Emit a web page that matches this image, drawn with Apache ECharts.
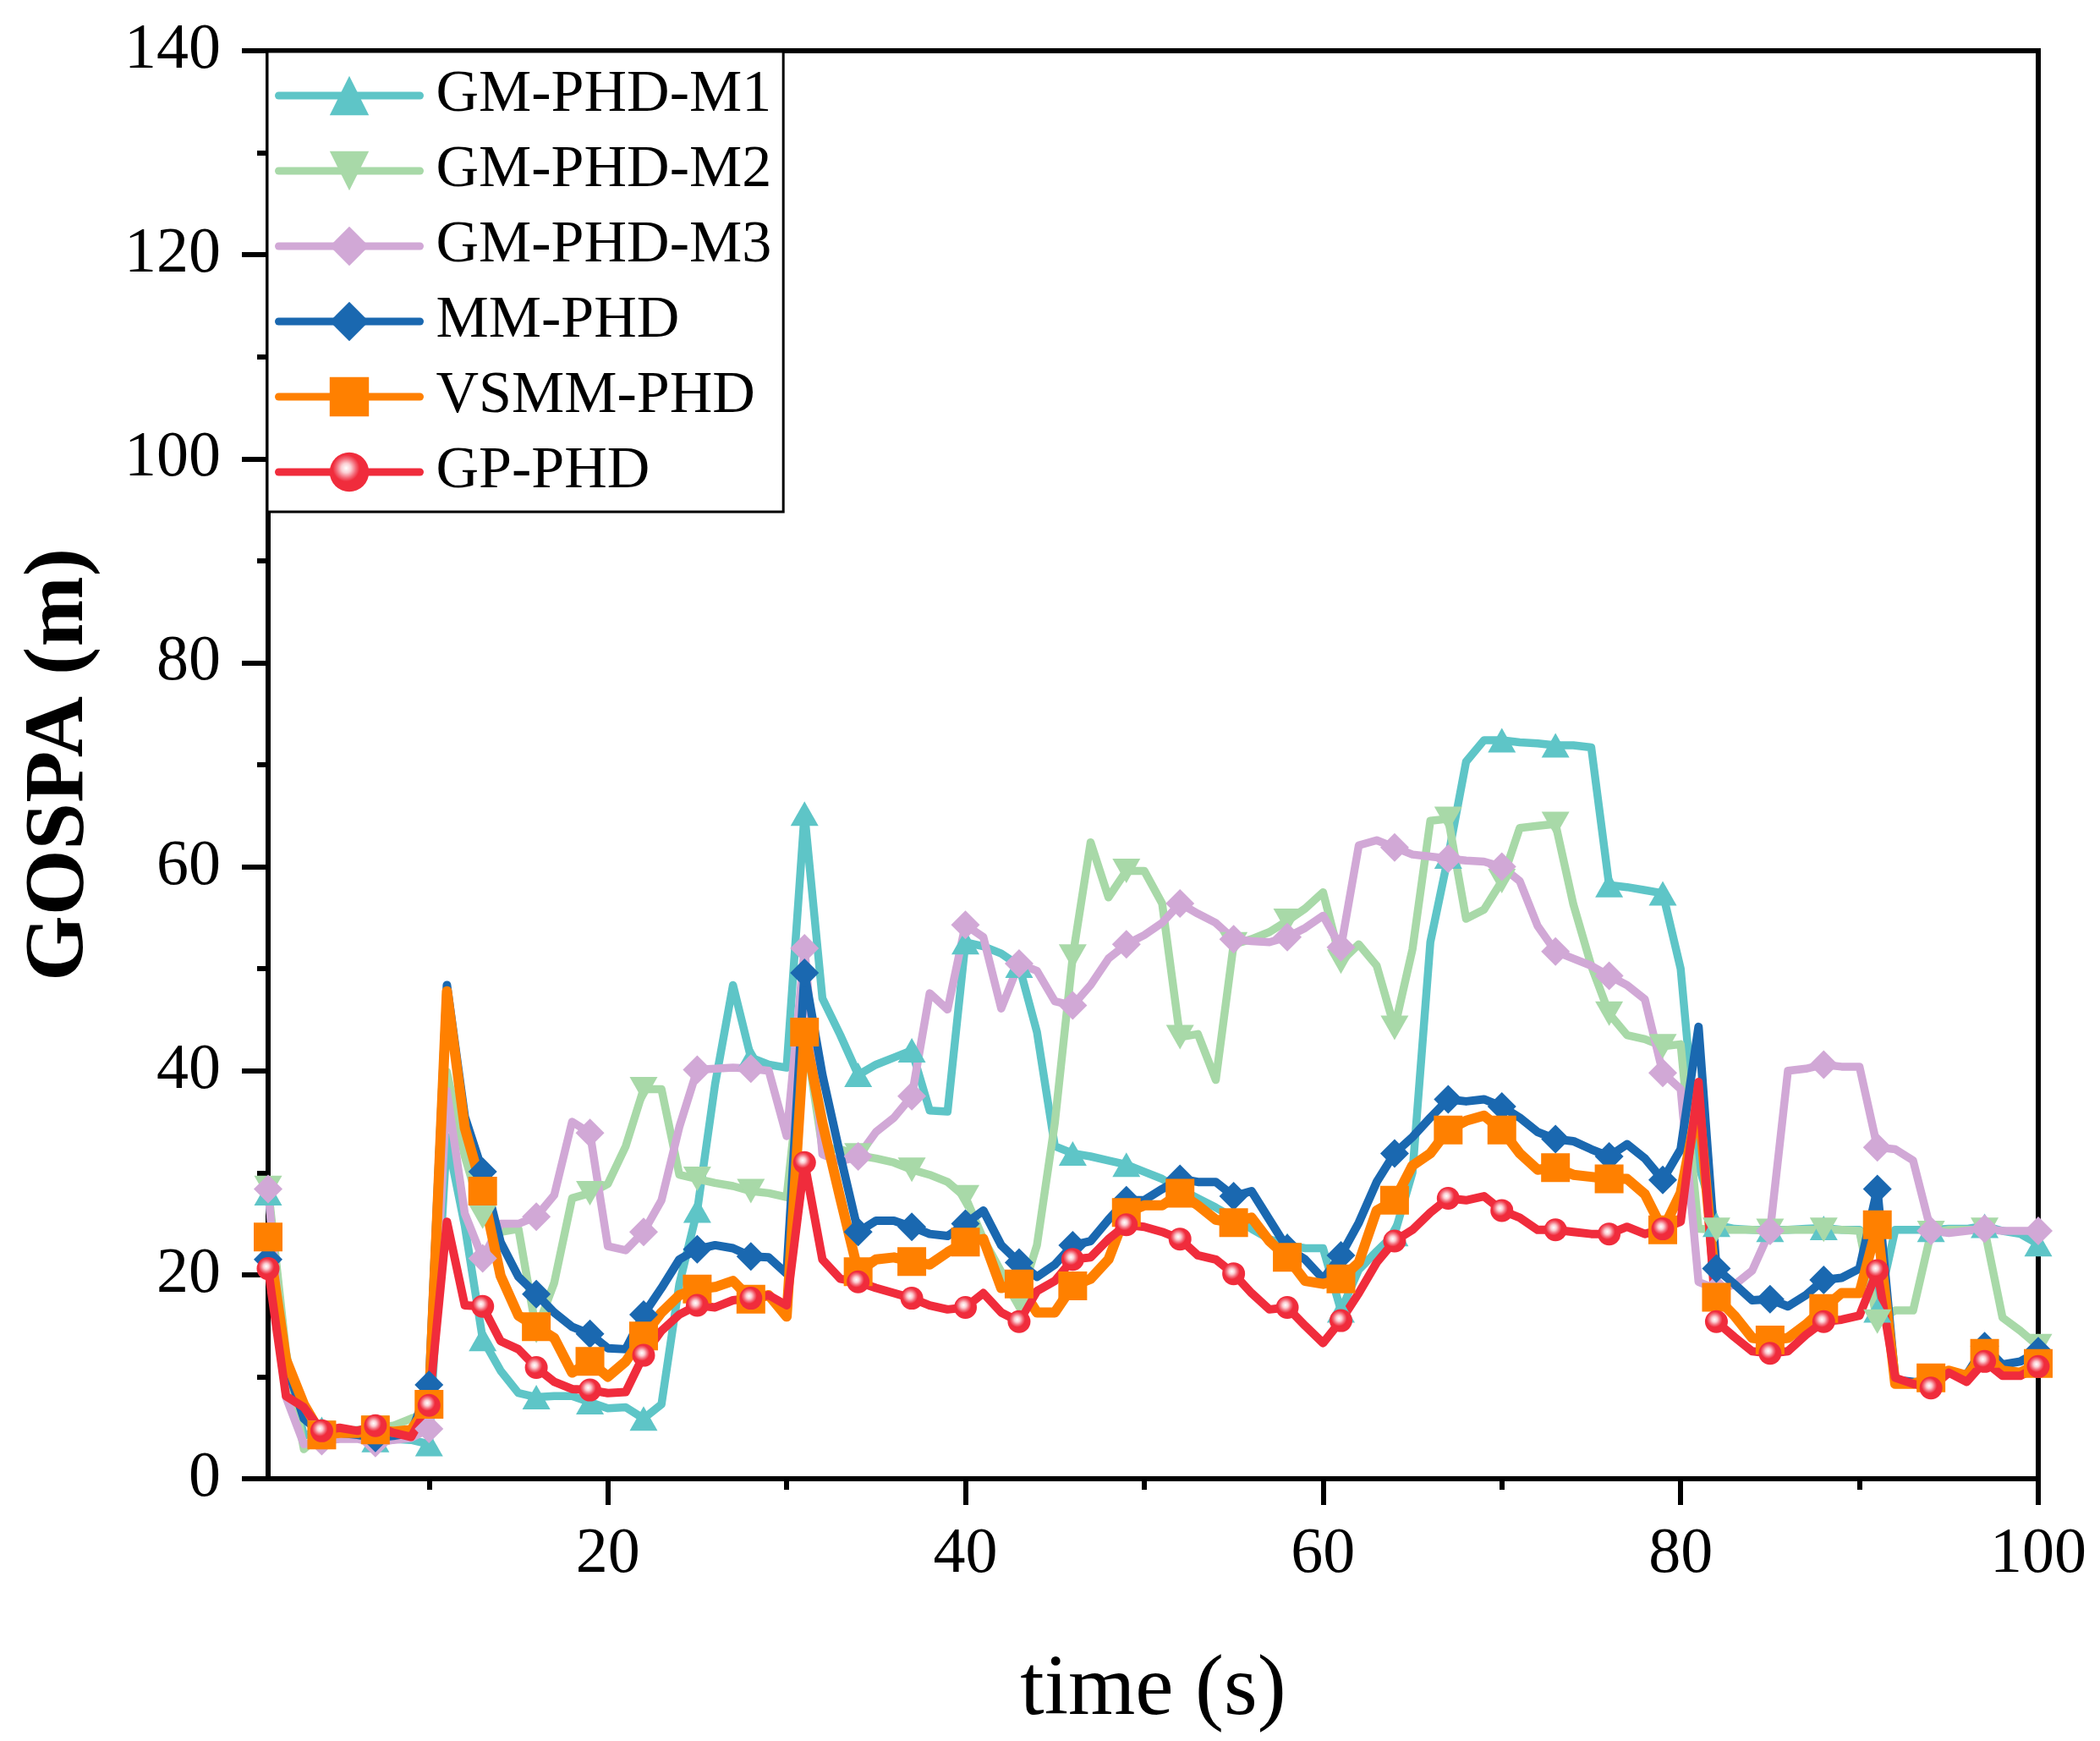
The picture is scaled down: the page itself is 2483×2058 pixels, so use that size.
<!DOCTYPE html>
<html>
<head>
<meta charset="utf-8">
<title>GOSPA vs time</title>
<script src="https://cdn.jsdelivr.net/npm/echarts@6/dist/echarts.min.js"></script>
<style>
  html, body { margin: 0; padding: 0; background: #fff; }
  #chart { width: 2483px; height: 2058px; }
</style>
</head>
<body>
<div id="chart"></div>
<script>
// time steps 1..100 (s)
var time = [];
for (var k = 1; k <= 100; k++) time.push(k);

var xTickValues = [20, 40, 60, 80, 100];
var xMinorTickValues = [10, 30, 50, 70, 90];

// GOSPA (m), one value per second
var gmPhdM1 = [
  28.0, 12.0, 4.2, 4.9, 4.3, 4.0, 3.8, 3.9, 3.8, 3.4,
  33.5, 24.8, 13.7, 10.6, 8.4, 8.0, 8.1, 8.1, 7.5, 6.9,
  7.0, 5.9, 7.3, 19.1, 26.3, 38.7, 48.4, 41.3, 40.6, 40.3,
  65.2, 47.1, 43.5, 39.6, 40.6, 41.3, 42.0, 36.1, 36.0, 52.6,
  52.2, 51.5, 50.3, 43.8, 32.6, 31.9, 31.6, 31.2, 30.8, 30.1,
  29.4, 28.4, 27.5, 26.6, 25.6, 24.5, 23.5, 22.9, 22.6, 22.6,
  16.5, 20.5, 22.3, 24.0, 30.0, 52.6, 61.0, 70.3, 72.4, 72.4,
  72.2, 72.1, 71.9, 71.9, 71.7, 58.2, 58.0, 57.7, 57.4, 50.0,
  30.8, 24.9, 24.5, 24.4, 24.4, 24.4, 24.5, 24.6, 24.4, 24.4,
  16.5, 24.4, 24.4, 24.4, 24.5, 24.5, 24.8, 24.3, 24.0, 23.0
];
var gmPhdM2 = [
  28.5, 12.5, 2.9, 4.5, 4.6, 4.8, 5.0, 5.2, 5.9, 6.5,
  39.9, 31.6, 25.7, 24.2, 24.5, 14.5, 19.2, 27.5, 28.0, 28.9,
  32.6, 38.2, 38.2, 29.8, 29.4, 29.0, 28.7, 28.2, 28.0, 27.6,
  44.0, 32.4, 32.3, 31.7, 31.4, 31.0, 30.3, 29.8, 29.1, 27.6,
  23.5, 20.3, 17.3, 22.9, 34.9, 51.2, 62.4, 57.0, 59.6, 59.6,
  56.4, 43.3, 43.6, 39.1, 52.4, 52.9, 53.6, 54.7, 55.9, 57.5,
  50.7, 52.4, 50.3, 44.2, 51.9, 64.5, 64.7, 54.9, 55.8, 58.6,
  63.8, 64.0, 64.2, 56.3, 50.3, 45.6, 43.5, 43.1, 42.4, 42.6,
  24.5, 24.4, 24.4, 24.4, 24.3, 24.4, 24.4, 24.4, 24.4, 24.3,
  15.4, 16.5, 16.5, 24.1, 24.4, 24.4, 24.4, 15.8, 14.5, 13.0
];
var gmPhdM3 = [
  28.4, 8.0, 3.4, 3.7, 3.9, 3.9, 3.5, 3.8, 4.0, 4.9,
  38.0, 26.0, 21.6, 25.0, 25.0, 25.7, 27.8, 35.0, 33.9, 22.8,
  22.4, 24.2, 27.3, 34.5, 40.1, 40.2, 40.3, 40.2, 40.0, 33.6,
  52.0, 31.8, 31.1, 31.6, 34.0, 35.4, 37.5, 47.6, 46.0, 54.3,
  53.1, 46.1, 50.5, 49.8, 46.8, 46.4, 48.4, 51.0, 52.4, 53.3,
  54.5, 56.4, 55.4, 54.5, 52.9, 52.7, 52.6, 53.1, 54.0, 55.2,
  52.1, 62.1, 62.6, 61.9, 61.2, 61.0, 60.8, 60.6, 60.5, 60.0,
  58.6, 54.2, 51.7, 51.0, 50.3, 49.3, 48.4, 47.0, 39.8, 38.2,
  19.3, 18.6, 19.0, 20.4, 24.3, 40.0, 40.2, 40.6, 40.4, 40.4,
  32.5, 32.3, 31.2, 24.3, 24.1, 24.3, 24.5, 24.3, 24.3, 24.3
];
var mmPhd = [
  21.5, 11.3, 5.9, 4.4, 4.5, 4.3, 4.0, 4.2, 4.5, 9.2,
  48.4, 35.5, 30.1, 23.2, 19.8, 18.1, 16.3, 14.9, 14.2, 12.8,
  12.7, 16.1, 18.7, 21.5, 22.5, 22.9, 22.6, 21.8, 21.7, 20.1,
  49.6, 39.6, 31.7, 24.2, 25.3, 25.3, 24.7, 24.0, 23.8, 25.0,
  26.3, 22.9, 21.2, 19.8, 21.0, 22.9, 23.3, 25.4, 27.3, 27.3,
  28.4, 29.4, 29.1, 29.1, 27.7, 28.2, 25.4, 22.6, 21.5, 19.6,
  21.9, 25.1, 29.1, 31.9, 33.5, 35.4, 37.2, 37.0, 37.2, 36.5,
  35.4, 34.0, 33.3, 33.1, 32.3, 31.6, 32.8, 31.4, 29.3, 32.3,
  44.3, 20.6, 19.1, 17.5, 17.6, 16.9, 18.0, 19.5, 19.7, 20.6,
  28.4, 9.7, 9.5, 9.3, 10.4, 10.2, 13.0, 11.2, 11.5, 12.5
];
var vsmmPhd = [
  23.7, 11.7, 7.3, 4.3, 4.5, 4.5, 4.8, 4.6, 4.8, 7.3,
  47.8, 34.4, 28.2, 19.9, 16.0, 14.9, 13.8, 10.4, 11.5, 10.0,
  11.5, 14.0, 16.3, 18.0, 18.6, 18.8, 19.4, 17.6, 18.0, 15.9,
  43.8, 34.9, 27.5, 20.3, 21.5, 21.7, 21.3, 21.0, 22.2, 23.2,
  23.5, 18.7, 19.1, 16.3, 16.3, 18.9, 19.6, 21.5, 26.1, 26.8,
  26.8, 28.0, 26.8, 25.4, 25.1, 25.6, 23.3, 21.7, 19.4, 19.1,
  19.6, 21.2, 26.3, 27.3, 30.7, 31.9, 34.2, 35.1, 35.6, 34.2,
  31.9, 30.3, 30.5, 29.8, 29.6, 29.4, 29.4, 27.9, 24.4, 28.0,
  37.0, 17.8, 16.0, 13.8, 13.6, 13.8, 15.1, 16.7, 18.2, 18.2,
  24.9, 9.3, 9.3, 9.9, 10.6, 10.1, 12.3, 10.6, 10.4, 11.3
];
var gpPhd = [
  20.6, 8.1, 7.0, 4.7, 5.0, 4.7, 5.2, 4.5, 4.1, 7.2,
  25.2, 17.0, 16.9, 13.5, 12.7, 10.9, 9.5, 8.8, 8.7, 8.4,
  8.5, 12.1, 14.5, 16.1, 17.0, 16.8, 17.5, 17.7, 18.0, 17.0,
  31.0, 21.5, 19.6, 19.3, 18.7, 18.2, 17.7, 17.0, 16.6, 16.8,
  18.2, 16.3, 15.4, 18.4, 19.4, 21.5, 21.7, 23.5, 24.9, 24.7,
  24.2, 23.5, 21.9, 21.5, 20.1, 18.2, 16.6, 16.8, 15.0, 13.3,
  15.5, 18.2, 21.2, 23.3, 24.4, 26.1, 27.5, 27.3, 27.7, 26.3,
  25.6, 24.4, 24.4, 24.2, 24.0, 24.0, 24.7, 24.0, 24.5, 25.2,
  38.9, 15.4, 13.9, 12.5, 12.3, 12.5, 14.1, 15.4, 15.6, 16.0,
  20.4, 9.9, 9.3, 8.9, 10.4, 9.5, 11.5, 10.1, 10.1, 11.0
];

var FONT = 'Liberation Serif';

function pairs(values) {
  return values.map(function (v, i) { return [time[i], v]; });
}

// a marker on every third sample (t = 1, 4, 7, ...)
function everyThird(size) {
  return function (val, params) {
    return params.dataIndex % 3 === 0 ? size : 0;
  };
}

function makeSeries(name, values, color, symbol, size, width, extra) {
  var s = {
    name: name,
    type: 'line',
    data: pairs(values),
    symbol: symbol,
    symbolSize: everyThird(size),
    showAllSymbol: true,
    lineStyle: { color: color, width: width, join: 'round', cap: 'round' },
    itemStyle: { color: color },
    emphasis: { disabled: true },
    animation: false
  };
  if (extra) {
    for (var key in extra) s[key] = extra[key];
  }
  return s;
}

var chart = echarts.init(document.getElementById('chart'), null, { renderer: 'canvas' });

var gpBall = new echarts.graphic.RadialGradient(0.42, 0.4, 0.55, [
  { offset: 0, color: '#ffffff' },
  { offset: 0.22, color: '#fbd0d4' },
  { offset: 0.45, color: '#f36a78' },
  { offset: 0.62, color: '#f02c3c' },
  { offset: 1, color: '#f02c3c' }
]);

var option = {
  backgroundColor: '#ffffff',
  animation: false,
  grid: {
    left: 317, right: 73, top: 60, bottom: 310,
    show: true, borderColor: '#000', borderWidth: 6, backgroundColor: 'transparent'
  },
  legend: {
    orient: 'vertical',
    left: 316, top: 61,
    padding: [17, 14, 12, 9],
    itemWidth: 167,
    itemHeight: 58,
    itemGap: 19,
    backgroundColor: '#fff',
    borderColor: '#000',
    borderWidth: 3,
    borderRadius: 0,
    lineStyle: { width: 9, cap: 'round' },
    textStyle: { fontFamily: FONT, fontSize: 70, color: '#000', lineHeight: 60, padding: [0, 0, 0, 14] },
    selectedMode: false,
    data: ['GM-PHD-M1', 'GM-PHD-M2', 'GM-PHD-M3', 'MM-PHD', 'VSMM-PHD', 'GP-PHD']
  },
  xAxis: [
    {
      type: 'value', min: 1, max: 100,
      name: 'time (s)', nameLocation: 'middle', nameGap: 200,
      nameTextStyle: { fontFamily: FONT, fontSize: 102, color: '#000' },
      axisLine: { show: true, onZero: false, lineStyle: { color: '#000', width: 6 } },
      axisTick: { show: true, inside: false, length: 31, customValues: xTickValues, lineStyle: { color: '#000', width: 6 } },
      axisLabel: { show: true, margin: 52, customValues: xTickValues, fontFamily: FONT, fontSize: 76, color: '#000' },
      splitLine: { show: false }
    },
    {
      type: 'value', min: 1, max: 100, position: 'bottom',
      axisLine: { show: false },
      axisTick: { show: true, inside: false, length: 13, customValues: xMinorTickValues, lineStyle: { color: '#000', width: 6 } },
      axisLabel: { show: false },
      splitLine: { show: false }
    }
  ],
  yAxis: {
    type: 'value', min: 0, max: 140, interval: 20,
    name: 'GOSPA (m)', nameLocation: 'middle', nameGap: 196, nameRotate: 90,
    nameTextStyle: { fontFamily: FONT, fontSize: 100, fontWeight: 'bold', color: '#000' },
    axisLine: { show: true, lineStyle: { color: '#000', width: 6 } },
    axisTick: { show: true, inside: false, length: 31, lineStyle: { color: '#000', width: 6 } },
    minorTick: { show: true, splitNumber: 2, length: 13, lineStyle: { color: '#000', width: 6 } },
    axisLabel: { margin: 56, fontFamily: FONT, fontSize: 76, color: '#000' },
    splitLine: { show: false },
    minorSplitLine: { show: false }
  },
  series: [
    makeSeries('GM-PHD-M1', gmPhdM1, '#5ec5c7', 'triangle', [33, 29], 9.5),
    makeSeries('GM-PHD-M2', gmPhdM2, '#a8d9a8', 'triangle', [33, 29], 9.5, { symbolRotate: 180 }),
    makeSeries('GM-PHD-M3', gmPhdM3, '#d1a8d6', 'diamond', [34, 34], 9.5),
    makeSeries('MM-PHD', mmPhd, '#1a68b0', 'diamond', [34, 34], 10),
    makeSeries('VSMM-PHD', vsmmPhd, '#ff8000', 'rect', 34, 12),
    makeSeries('GP-PHD', gpPhd, '#f02c3c', 'circle', 27, 10, { itemStyle: { color: gpBall } })
  ]
};

chart.setOption(option);
</script>
</body>
</html>
